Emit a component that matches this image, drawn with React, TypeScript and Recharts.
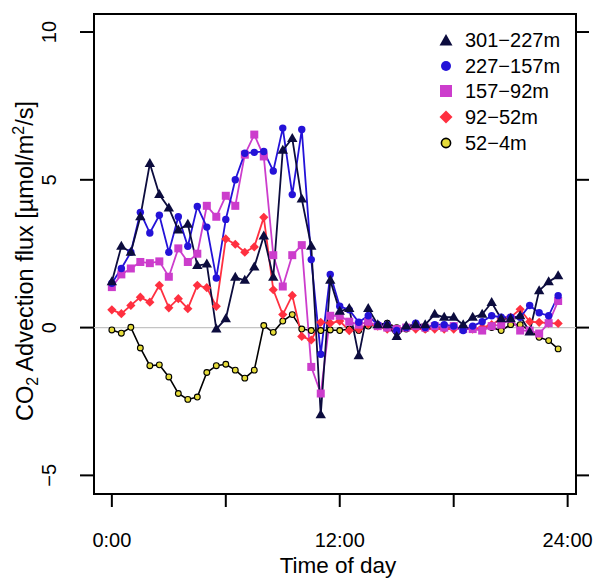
import React from 'react'
import { ComposedChart, Line, XAxis, YAxis, ReferenceLine, ReferenceArea, Label } from 'recharts'

document.body.style.margin = '0'

// half-hourly time of day
const hours = [
  0, 0.5, 1, 1.5, 2, 2.5, 3, 3.5, 4, 4.5, 5, 5.5, 6, 6.5, 7, 7.5, 8, 8.5, 9, 9.5, 10, 10.5, 11, 11.5,
  12, 12.5, 13, 13.5, 14, 14.5, 15, 15.5, 16, 16.5, 17, 17.5, 18, 18.5, 19, 19.5, 20, 20.5, 21, 21.5, 22, 22.5, 23, 23.5,
]

const flux301 = [
  1.55, 2.75, 2.55, 3.75, 5.55, 4.5, 4.05, 3.3, 3.5, 2.1, 2.15, -0.05, 0.3, 1.7, 1.6, 2.05, 3.1, 1.7, 6.0, 6.4, 4.35, 2.75, -2.95, 1.6,
  0.55, 0.65, -0.95, 0.65, 0.1, 0.1, -0.3, 0.05, 0.1, 0.1, 0.45, 0.35, 0.35, 0.1, 0.35, 0.45, 0.85, 0.3, 0.3, 0.4, -0.15, 1.25, 1.55, 1.75,
]
const flux227 = [
  1.5, 2.0, 2.55, 3.9, 3.2, 3.8, 2.55, 3.75, 2.75, 4.1, 3.4, 1.68, 3.66, 5.0, 5.9, 5.93, 5.96, 5.3, 6.75, 4.5, 6.7, 2.3, -0.9, 1.8,
  0.72, 0.6, 0.18, 0.4, 0.1, 0.1, -0.1, 0.0, 0.15, 0.0, 0.1, 0.1, 0.05, -0.1, 0.05, 0.2, 0.4, 0.35, 0.35, 0.35, 0.75, 0.5, 0.4, 1.08,
]
const flux157 = [
  1.37, 1.8, 2.0, 2.22, 2.18, 2.24, 1.72, 2.68, 2.22, 2.5, 4.12, 3.75, 4.46, 4.12, 5.85, 6.53, 5.79, 2.45, 1.39, 2.45, 2.79, -1.33, -2.23, 0.4,
  0.4, 0.2, 0.1, 0.2, 0.05, 0.0, -0.05, 0.0, 0.05, 0.0, 0.05, 0.0, 0.05, -0.05, -0.05, -0.1, 0.05, 0.1, 0.3, -0.1, -0.1, -0.2, 0.15, 0.9,
]
const flux92 = [
  0.6, 0.47, 0.75, 1.03, 0.86, 1.43, 0.67, 0.98, 0.64, 1.43, 1.35, 0.72, 3.0, 2.82, 2.55, 2.73, 3.73, 1.28, 0.44, 1.09, -0.3, -0.42, 0.18, 0.15,
  0.22, -0.1, -0.05, 0.12, 0.05, -0.05, -0.05, 0.0, -0.05, -0.05, -0.05, -0.05, -0.05, 0.0, -0.05, 0.0, 0.1, 0.3, 0.35, 0.62, 0.2, 0.18, 0.15, 0.14,
]
const flux52 = [
  -0.08, -0.19, 0.01, -0.69, -1.29, -1.26, -1.67, -2.23, -2.43, -2.35, -1.52, -1.29, -1.24, -1.44, -1.71, -1.44, 0.07, -0.16, 0.22, 0.44, -0.05, -0.1, -0.1, -0.08,
  -0.1, -0.05, -0.1, 0.05, 0.1, 0.15, 0.0, -0.05, 0.0, -0.05, 0.0, 0.0, 0.0, -0.05, -0.05, -0.05, 0.0, -0.1, 0.1, 0.1, -0.1, -0.33, -0.44, -0.72,
]

const xTicks = [0, 6, 12, 18, 24]
const xTickLabels: Record<number, string> = { 0: '0:00', 12: '12:00', 24: '24:00' }
const yTicks = [-5, 0, 5, 10]

const FONT = '"Liberation Sans", Arial, sans-serif'

const COLORS = {
  s301: '#0c0c3e',
  s227: '#2412d8',
  s157: '#cc3dcc',
  s92: '#ff3040',
  s52: '#e6dc3a',
}

const data = hours.map((h, i) => ({
  h,
  s301: flux301[i],
  s227: flux227[i],
  s157: flux157[i],
  s92: flux92[i],
  s52: flux52[i],
}))

const fmtMinus = (v: number) => (v < 0 ? '\u2212' + Math.abs(v) : String(v))

// marker shapes
const triDot = (p: any) => (
  <path key={`t-${p.index}`} d={`M${p.cx},${p.cy - 5.5} L${p.cx + 5.2},${p.cy + 3.5} L${p.cx - 5.2},${p.cy + 3.5} Z`} fill={COLORS.s301} />
)
const circDot = (p: any) => <circle key={`c-${p.index}`} cx={p.cx} cy={p.cy} r={3.7} fill={COLORS.s227} />
const sqDot = (p: any) => <rect key={`s-${p.index}`} x={p.cx - 4} y={p.cy - 4} width={8} height={8} fill={COLORS.s157} />
const diaDot = (p: any) => (
  <path key={`d-${p.index}`} d={`M${p.cx},${p.cy - 4.6} L${p.cx + 4.6},${p.cy} L${p.cx},${p.cy + 4.6} L${p.cx - 4.6},${p.cy} Z`} fill={COLORS.s92} />
)
const yelDot = (p: any) => <circle key={`y-${p.index}`} cx={p.cx} cy={p.cy} r={2.9} fill={COLORS.s52} stroke="#000" strokeWidth={1.1} />

const XTick = ({ x, payload }: any) => (
  <text x={x} y={547} textAnchor="middle" fontSize={20} fontFamily={FONT} fill="#000">
    {xTickLabels[payload.value] || ''}
  </text>
)

const YTick = ({ y, payload }: any) => (
  <text x={56} y={y} transform={`rotate(-90 56 ${y})`} textAnchor="middle" fontSize={20} fontFamily={FONT} fill="#000">
    {fmtMinus(payload.value)}
  </text>
)

const legendItems = [
  { label: '301\u2212227m', shape: 'tri' },
  { label: '227\u2212157m', shape: 'circ' },
  { label: '157\u221292m', shape: 'sq' },
  { label: '92\u221252m', shape: 'dia' },
  { label: '52\u22124m', shape: 'yel' },
]

const LegendSymbol = ({ shape }: { shape: string }) => (
  <svg width={16} height={16} style={{ display: 'block' }}>
    {shape === 'tri' && <path d="M8,2 L14.5,13.5 L1.5,13.5 Z" fill={COLORS.s301} />}
    {shape === 'circ' && <circle cx={8} cy={8} r={5} fill={COLORS.s227} />}
    {shape === 'sq' && <rect x={2} y={2} width={12} height={12} fill={COLORS.s157} />}
    {shape === 'dia' && <path d="M8,1.5 L14.5,8 L8,14.5 L1.5,8 Z" fill={COLORS.s92} />}
    {shape === 'yel' && <circle cx={8} cy={8} r={4.6} fill={COLORS.s52} stroke="#000" strokeWidth={1.6} />}
  </svg>
)

export default function App() {
  return (
    <div style={{ position: 'relative', width: 595, height: 578, background: '#fff' }}>
      <ComposedChart width={595} height={578} data={data} margin={{ top: 14, right: 0, bottom: 0, left: 0 }}>
        <XAxis
          dataKey="h"
          type="number"
          domain={[-0.94, 24.44]}
          allowDataOverflow
          ticks={xTicks}
          height={84}
          axisLine={false}
          tickSize={13}
          tickLine={{ stroke: '#000', strokeWidth: 2 }}
          tick={<XTick />}
          interval={0}
        >
          <Label
            content={() => (
              <text x={338} y={573} textAnchor="middle" fontSize={22.5} fontFamily={FONT} fill="#000">
                Time of day
              </text>
            )}
          />
        </XAxis>
        <YAxis
          yAxisId="l"
          type="number"
          domain={[-5.63, 10.61]}
          allowDataOverflow
          ticks={yTicks}
          width={94}
          axisLine={false}
          tickSize={14}
          tickLine={{ stroke: '#000', strokeWidth: 2 }}
          tick={<YTick />}
          interval={0}
        >
          <Label
            content={() => (
              <text x={33} y={261} transform="rotate(-90 33 261)" textAnchor="middle" fontSize={23.5} fontFamily={FONT} fill="#000">
                CO<tspan fontSize={16} dy={5}>2</tspan>
                <tspan dy={-5}> Advection flux [µmol/m</tspan>
                <tspan fontSize={16} dy={-9}>2</tspan>
                <tspan dy={9}>/s]</tspan>
              </text>
            )}
          />
        </YAxis>
        <YAxis
          yAxisId="r"
          orientation="right"
          type="number"
          domain={[-5.63, 10.61]}
          allowDataOverflow
          ticks={yTicks}
          width={19}
          axisLine={false}
          tickSize={13}
          tickLine={{ stroke: '#000', strokeWidth: 2 }}
          tick={() => <g />}
          interval={0}
        />
        <ReferenceLine yAxisId="l" y={0} stroke="#c4c4c4" strokeWidth={1.2} />
        <Line yAxisId="l" dataKey="s52" stroke="#000" strokeWidth={1.6} dot={yelDot} activeDot={false} isAnimationActive={false} />
        <Line yAxisId="l" dataKey="s92" stroke={COLORS.s92} strokeWidth={1.8} dot={diaDot} activeDot={false} isAnimationActive={false} />
        <Line yAxisId="l" dataKey="s157" stroke={COLORS.s157} strokeWidth={1.8} dot={sqDot} activeDot={false} isAnimationActive={false} />
        <Line yAxisId="l" dataKey="s227" stroke={COLORS.s227} strokeWidth={1.8} dot={circDot} activeDot={false} isAnimationActive={false} />
        <Line yAxisId="l" dataKey="s301" stroke={COLORS.s301} strokeWidth={1.8} dot={triDot} activeDot={false} isAnimationActive={false} />
        <ReferenceArea
          yAxisId="l"
          x1={-0.94}
          x2={24.44}
          y1={-5.63}
          y2={10.61}
          fill="none"
          fillOpacity={0}
          stroke="#000"
          strokeWidth={2}
          ifOverflow="visible"
        />
      </ComposedChart>
      <div style={{ position: 'absolute', left: 438, top: 27, fontFamily: FONT, fontSize: 20, color: '#000' }}>
        {legendItems.map((it) => (
          <div key={it.label} style={{ display: 'flex', alignItems: 'center', height: 25.8 }}>
            <LegendSymbol shape={it.shape} />
            <span style={{ marginLeft: 11, lineHeight: '20px' }}>{it.label}</span>
          </div>
        ))}
      </div>
    </div>
  )
}
